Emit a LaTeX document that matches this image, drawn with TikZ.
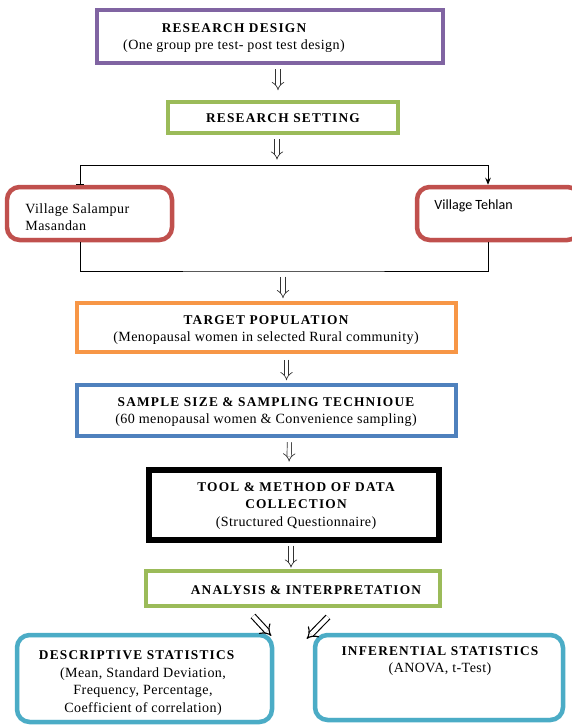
\documentclass[tikz,border=0pt]{standalone}
\usepackage{fontspec}
\setmainfont{Liberation Serif}
\newfontfamily\spacedfont{Liberation Serif}[LetterSpace=9]
\newfontfamily\subfont{Liberation Serif}[LetterSpace=3]
\newfontfamily\calibrifont{Carlito}
\usetikzlibrary{arrows.meta,fit,calc}

\definecolor{designpurple}{HTML}{8064A2}
\definecolor{settinggreen}{HTML}{9BBB59}
\definecolor{villagered}{HTML}{C0504D}
\definecolor{targetorange}{HTML}{F79646}
\definecolor{sampleblue}{HTML}{4F81BD}
\definecolor{statcyan}{HTML}{4BACC6}

\newcommand\headfont{\spacedfont\bfseries\fontsize{9.5}{12.5}\selectfont}

\tikzset{
  frame/.style={draw=#1, line width=2.8pt, inner sep=0pt,
    append after command={\pgfextra{\draw[#1!55, line width=0.5pt]
      ([shift={(2.7pt,2.7pt)}]\tikzlastnode.south west) rectangle
      ([shift={(-2.7pt,-2.7pt)}]\tikzlastnode.north east);}}},
  toolframe/.style={draw=black, line width=4pt, inner sep=0pt,
    append after command={\pgfextra{\draw[black, line width=0.6pt]
      ([shift={(3.5pt,3.5pt)}]\tikzlastnode.south west) rectangle
      ([shift={(-3.5pt,-3.5pt)}]\tikzlastnode.north east);}}},
  roundframe/.style={draw=#1, line width=3.2pt, inner sep=0pt, rounded corners=9pt,
    append after command={\pgfextra{\draw[#1!45, line width=0.5pt, rounded corners=6pt]
      ([shift={(2.8pt,2.8pt)}]\tikzlastnode.south west) rectangle
      ([shift={(-2.8pt,-2.8pt)}]\tikzlastnode.north east);}}},
}

\begin{document}
\begin{tikzpicture}[x=0.025cm,y=-0.025cm,semithick]
    \tikzstyle{boxtext}=[align=center, inner sep=0pt, font=\subfont\fontsize{10}{12.5}\selectfont]
    \tikzstyle{flow}=[double, double distance=2.6pt, draw=black!80, line width=0.5pt,
                      -{Implies}, shorten <=3pt, shorten >=2pt]
    \tikzstyle{slant}=[double, double distance=3pt, draw=black, line width=0.8pt, -{Implies}]

    \useasboundingbox (0,0) rectangle (572,726);

    % boxes
    \node[frame=designpurple, fit={(97,10) (443,63)}] (design) {};
    \node[frame=settinggreen, fit={(168,102) (398,133)}] (setting) {};
    \node[roundframe=villagered, fit={(7,187) (172,240)}] (salampur) {};
    \node[roundframe=villagered, fit={(417,187) (580,240)}] (tehlan) {};
    \node[frame=targetorange, fit={(77,303) (456,352)}] (target) {};
    \node[frame=sampleblue, fit={(77,385) (456,436)}] (sample) {};
    \node[toolframe, fit={(149,470) (439,540)}] (tool) {};
    \node[frame=settinggreen, fit={(146,571) (440,606)}] (analysis) {};
    \node[roundframe=statcyan, fit={(17,635) (272,722)}] (descriptive) {};
    \node[roundframe=statcyan, fit={(315,635) (563,720)}] (inferential) {};

    % texts
    \node[boxtext] (designtext) at (234,38) {{\headfont RESEARCH DESIGN}\\(One group pre test- post test design)};
    \node[boxtext] (settingtext) at (283,118) {\headfont RESEARCH SETTING};
    \node[boxtext, align=left, anchor=west] (salampurtext) at (25,217) {Village Salampur\\Masandan};
    \node[boxtext, anchor=west, font=\calibrifont\fontsize{10}{12}\selectfont] (tehlantext) at (434,206) {Village Tehlan};
    \node[boxtext] (targettext) at (266,330) {{\headfont TARGET POPULATION}\\(Menopausal women in selected Rural community)};
    \node[boxtext] (sampletext) at (266,412) {{\headfont SAMPLE SIZE \& SAMPLING TECHNIOUE}\\(60 menopausal women \& Convenience sampling)};
    \node[boxtext] (tooltext) at (296,506) {{\headfont TOOL \& METHOD OF DATA}\\{\headfont COLLECTION}\\(Structured Questionnaire)};
    \node[boxtext] (analysistext) at (306,590) {\headfont ANALYSIS \& INTERPRETATION};
    \node[boxtext] (descriptivetext) at (143,683) {\hspace*{-9pt}{\headfont DESCRIPTIVE STATISTICS}\\(Mean, Standard Deviation,\\Frequency, Percentage,\\Coefficient of correlation)};
    \node[boxtext] (inferentialtext) at (440,661) {{\headfont INFERENTIAL STATISTICS}\\(ANOVA, t-Test)};

    \coordinate (split) at (277,165);
    \coordinate (merge) at (283,271);

    % connectors
    \draw[flow, shorten >=7pt] ($(design.south)+(8,0)$) -- ($(setting.north)+(-5,0)$);
    \draw[flow, shorten >=1pt] ($(setting.south)+(-6,0)$) -- ($(split)+(0,-4)$);
    \draw[-{Bar[width=5pt]}] (split) -| ($(salampur.north)+(-9.5,0)$);
    \draw[-{Stealth[length=5pt,width=4pt]}] (split) -| ($(tehlan.north)+(-10.5,0)$);
    \draw[thin] ($(salampur.south)+(-9.5,0)$) |- (merge) -| ($(tehlan.south)+(-10.5,0)$);
    \draw[flow, shorten <=4pt] (merge) -- (merge |- target.north);
    \draw[flow, shorten <=4pt] ($(target.south)+(20,0)$) -- ($(sample.north)+(20,0)$);
    \draw[flow, shorten >=4pt] ($(sample.south)+(23,0)$) -- ($(tool.north)+(-5,0)$);
    \draw[flow, shorten <=2pt, shorten >=1pt] ($(tool.south)+(-3,0)$) -- ($(analysis.north)+(-2,0)$);
    \draw[slant] ($(analysis.south)+(-40,8)$) -- ($(descriptive.north east)+(-3,3)$);
    \draw[slant] ($(analysis.south)+(35,9)$) -- ($(inferential.north west)+(-6,6)$);
\end{tikzpicture}
\end{document}
